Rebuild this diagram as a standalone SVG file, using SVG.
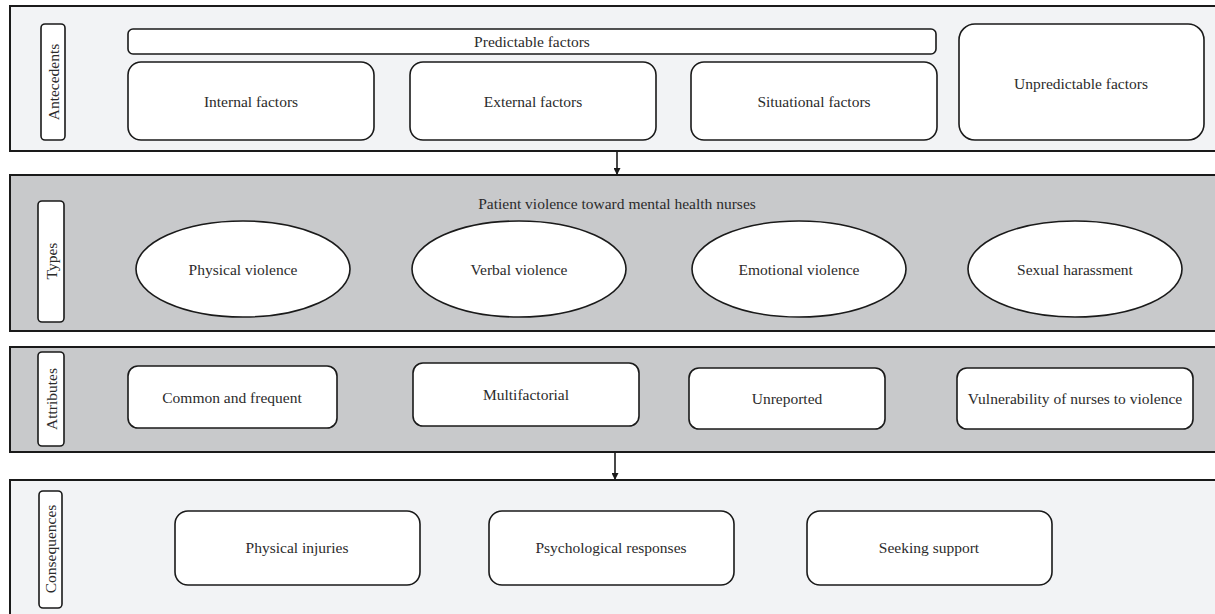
<svg xmlns="http://www.w3.org/2000/svg" width="1215" height="614" viewBox="0 0 1215 614">
<defs>
<style>
.panelL{fill:#f2f3f5;stroke:#1a1a1a;stroke-width:2}
.panelD{fill:#c8c9cb;stroke:#1a1a1a;stroke-width:2}
.box{fill:#ffffff;stroke:#1a1a1a;stroke-width:1.6}
.t{font-family:"Liberation Serif","Times New Roman",serif;font-size:15.5px;fill:#2b2b2b;text-anchor:middle;dominant-baseline:central}
.conn{stroke:#1a1a1a;stroke-width:1.6;fill:none}
</style>
<marker id="ah" viewBox="0 0 10 10" refX="10" refY="5" markerWidth="7" markerHeight="7" markerUnits="userSpaceOnUse" orient="auto">
<path d="M0,0 L10,5 L0,10 z" fill="#1a1a1a"/>
</marker>
</defs>

<g id="panel-antecedents">
<rect class="panelL" x="10" y="6" width="1215" height="145"/>
<rect class="box" x="41" y="24" width="24" height="116" rx="4"/>
<text class="t" transform="translate(53,82) rotate(-90)">Antecedents</text>
</g>
<g id="node-predictable">
<rect class="box" x="128" y="29" width="808" height="25" rx="5"/>
<text class="t" x="532" y="41">Predictable factors</text>
</g>
<g id="node-internal">
<rect class="box" x="128" y="62" width="246" height="78" rx="13"/>
<text class="t" x="251" y="101">Internal factors</text>
</g>
<g id="node-external">
<rect class="box" x="410" y="62" width="246" height="78" rx="13"/>
<text class="t" x="533" y="101">External factors</text>
</g>
<g id="node-situational">
<rect class="box" x="691" y="62" width="246" height="78" rx="13"/>
<text class="t" x="814" y="101">Situational factors</text>
</g>
<g id="node-unpredictable">
<rect class="box" x="959" y="24" width="245" height="116" rx="16"/>
<text class="t" x="1081" y="83">Unpredictable factors</text>
</g>

<g id="panel-types">
<rect class="panelD" x="10" y="175" width="1215" height="156"/>
<rect class="box" x="38" y="201" width="26" height="121" rx="4"/>
<text class="t" transform="translate(51,261) rotate(-90)">Types</text>
<text class="t" x="617" y="203">Patient violence toward mental health nurses</text>
</g>
<g id="node-physical-violence">
<ellipse class="box" cx="243" cy="269" rx="107" ry="48"/>
<text class="t" x="243" y="269">Physical violence</text>
</g>
<g id="node-verbal-violence">
<ellipse class="box" cx="519" cy="269" rx="107" ry="48"/>
<text class="t" x="519" y="269">Verbal violence</text>
</g>
<g id="node-emotional-violence">
<ellipse class="box" cx="799" cy="269" rx="107" ry="48"/>
<text class="t" x="799" y="269">Emotional violence</text>
</g>
<g id="node-sexual-harassment">
<ellipse class="box" cx="1075" cy="269" rx="107" ry="48"/>
<text class="t" x="1075" y="269">Sexual harassment</text>
</g>

<g id="panel-attributes">
<rect class="panelD" x="10" y="347" width="1215" height="105"/>
<rect class="box" x="38" y="352" width="26" height="94" rx="4"/>
<text class="t" transform="translate(51,399) rotate(-90)">Attributes</text>
</g>
<g id="node-common">
<rect class="box" x="128" y="366" width="209" height="62" rx="10"/>
<text class="t" x="232" y="397">Common and frequent</text>
</g>
<g id="node-multifactorial">
<rect class="box" x="413" y="363" width="226" height="63" rx="10"/>
<text class="t" x="526" y="394">Multifactorial</text>
</g>
<g id="node-unreported">
<rect class="box" x="689" y="368" width="196" height="61" rx="10"/>
<text class="t" x="787" y="398">Unreported</text>
</g>
<g id="node-vulnerability">
<rect class="box" x="957" y="368" width="236" height="61" rx="10"/>
<text class="t" x="1075" y="398">Vulnerability of nurses to violence</text>
</g>

<g id="panel-consequences">
<rect class="panelL" x="10" y="480" width="1215" height="140"/>
<rect class="box" x="39" y="491" width="23" height="117" rx="4"/>
<text class="t" transform="translate(50.5,549) rotate(-90)">Consequences</text>
</g>
<g id="node-physical-injuries">
<rect class="box" x="175" y="511" width="245" height="74" rx="13"/>
<text class="t" x="297" y="547">Physical injuries</text>
</g>
<g id="node-psychological">
<rect class="box" x="489" y="511" width="245" height="74" rx="13"/>
<text class="t" x="611" y="547">Psychological responses</text>
</g>
<g id="node-seeking-support">
<rect class="box" x="807" y="511" width="245" height="74" rx="13"/>
<text class="t" x="929" y="547">Seeking support</text>
</g>

<g id="connectors">
<line class="conn" x1="617" y1="151" x2="617" y2="175" marker-end="url(#ah)"/>
<line class="conn" x1="615" y1="452" x2="615" y2="480" marker-end="url(#ah)"/>
</g>
</svg>
